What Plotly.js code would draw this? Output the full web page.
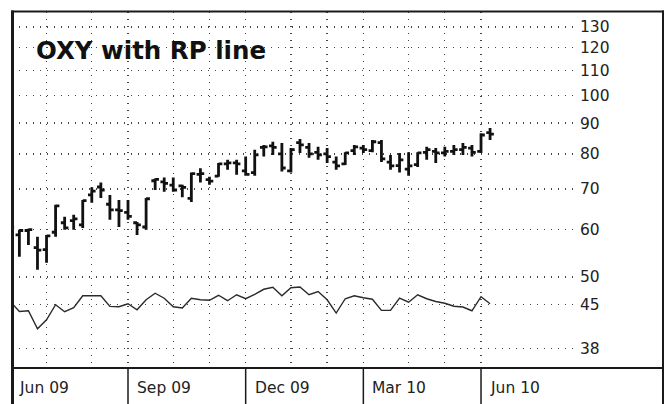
<!DOCTYPE html>
<html>
<head>
<meta charset="utf-8">
<script src="https://cdn.plot.ly/plotly-3.0.1.min.js"></script>
<style>
html,body{margin:0;padding:0;background:#fff;}
#chart{width:667px;height:404px;}
</style>
</head>
<body>
<div id="chart"></div>
<script>
// Weekly bars (week starting Monday)
const dates = ["2009-06-01","2009-06-08","2009-06-15","2009-06-22","2009-06-29","2009-07-06","2009-07-13","2009-07-20","2009-07-27",
"2009-08-03","2009-08-10","2009-08-17","2009-08-24","2009-08-31","2009-09-07","2009-09-14","2009-09-21","2009-09-28",
"2009-10-05","2009-10-12","2009-10-19","2009-10-26","2009-11-02","2009-11-09","2009-11-16","2009-11-23","2009-11-30",
"2009-12-07","2009-12-14","2009-12-21","2009-12-28","2010-01-04","2010-01-11","2010-01-18","2010-01-25",
"2010-02-01","2010-02-08","2010-02-15","2010-02-22","2010-03-01","2010-03-08","2010-03-15","2010-03-22","2010-03-29",
"2010-04-05","2010-04-12","2010-04-19","2010-04-26","2010-05-03","2010-05-10","2010-05-17","2010-05-24","2010-05-31","2010-06-07"];

const openP  = [59.0,58.7,59.7,55.9,55.5,59.3,61.5,62.0,61.0,68.4,70.5,66.0,64.6,64.0,61.5,60.5,72.2,71.9,71.0,70.8,67.5,74.0,72.5,73.5,77.0,77.3,75.0,74.5,82.0,82.5,80.0,75.0,83.5,82.0,80.5,80.0,77.5,77.0,81.0,81.8,81.0,83.5,77.5,76.5,75.5,76.8,80.5,80.8,80.3,80.8,81.3,81.8,80.8,86.8];
const highP  = [60.8,59.9,60.1,58.3,58.7,65.9,62.9,63.4,67.1,70.4,71.7,68.4,67.1,67.1,61.7,67.6,72.8,73.1,73.1,71.1,74.5,75.7,73.3,77.3,78.2,78.2,79.2,81.3,82.8,83.8,83.4,81.8,84.7,83.4,82.2,81.8,79.2,80.5,82.8,82.8,84.4,84.4,79.7,80.3,80.5,80.5,82.2,81.8,82.2,82.8,83.4,82.8,86.6,88.3];
const lowP   = [53.0,54.0,56.5,51.4,52.8,58.3,59.9,59.9,60.3,66.4,67.6,62.2,60.5,62.2,58.7,59.9,69.7,69.2,69.2,67.8,66.6,71.7,71.1,73.3,75.3,73.9,73.6,73.6,79.2,79.7,74.8,74.5,80.3,78.8,78.2,77.3,75.3,76.7,79.7,80.3,80.5,77.6,75.3,74.5,73.6,76.1,78.2,77.3,79.2,79.7,79.7,79.2,80.3,84.4];
const closeP = [60.5,59.7,59.9,55.4,58.5,65.6,60.3,62.4,66.9,69.4,69.7,64.6,64.4,63.0,61.0,67.4,72.6,71.5,69.7,70.4,74.2,74.2,72.1,77.0,77.3,77.0,74.0,79.7,82.2,82.0,75.8,81.3,82.8,80.0,79.7,79.2,76.4,80.3,82.2,81.3,83.8,78.5,76.4,78.2,76.4,80.3,81.3,80.3,80.8,81.3,82.0,80.5,86.0,86.3];

// Relative performance line (plotted on price scale)
const rpLine = [45.47,43.82,43.93,41.01,42.45,44.96,43.77,44.44,46.52,46.52,46.52,44.67,44.61,45.13,44.10,45.82,46.97,46.08,44.61,44.39,
46.08,45.82,45.73,46.61,45.65,46.70,46.00,46.79,47.69,48.05,46.52,47.96,48.09,46.70,47.29,45.82,43.55,46.00,46.52,46.17,
45.91,43.99,43.99,46.12,45.39,46.70,46.00,45.52,45.21,44.70,44.56,43.93,46.35,45.13];

// Axis ticks
const yTicks = [38,45,50,60,70,80,90,100,110,120,130];
const monthGrid = ["2009-06-29","2009-08-03","2009-08-31","2009-10-05","2009-11-02","2009-11-30","2010-01-04","2010-02-01","2010-03-01","2010-04-05","2010-05-03","2010-05-31"];
const quarterDates = ["2009-06-01","2009-08-31","2009-11-30","2010-03-01","2010-05-31"];
const quarterLabels = ["Jun 09","Sep 09","Dec 09","Mar 10","Jun 10"];
const titleText = "OXY with RP line";

const W = 667, H = 404;
const mL = 12, mR = 89, mT = 12, mB = 36;
const pw = W - mL - mR, ph = H - mT - mB;
const px = p => (p - mL) / pw;
const py = p => (H - mB - p) / ph;

const traces = [
  {
    type: 'ohlc', x: dates, open: openP, high: highP, low: lowP, close: closeP,
    increasing: {line: {color: '#111', width: 2.8}},
    decreasing: {line: {color: '#111', width: 2.8}},
    tickwidth: 0.42, hoverinfo: 'skip', showlegend: false
  },
  {
    type: 'scatter', mode: 'lines', x: dates, y: rpLine,
    line: {color: '#2a2a2a', width: 1.4}, hoverinfo: 'skip', showlegend: false
  }
];

const shapes = [];
const lineCol = '#1a1a1a';
// frame
shapes.push({type:'line', xref:'paper', yref:'paper', x0:px(12.5), x1:px(12.5), y0:py(10.5), y1:py(406), line:{color:lineCol, width:3}});
shapes.push({type:'line', xref:'paper', yref:'paper', x0:px(11), x1:px(664), y0:py(11.5), y1:py(11.5), line:{color:lineCol, width:2}});
shapes.push({type:'line', xref:'paper', yref:'paper', x0:px(663), x1:px(663), y0:py(10.5), y1:py(406), line:{color:lineCol, width:2}});
shapes.push({type:'line', xref:'paper', yref:'paper', x0:px(11), x1:px(664), y0:py(368), y1:py(368), line:{color:lineCol, width:2}});
// quarter separators in the date strip
quarterDates.slice(1).forEach(d => {
  shapes.push({type:'line', xref:'x', yref:'paper', x0:d, x1:d, y0:py(368), y1:py(406), line:{color:lineCol, width:1.5}});
});

const labelFont = {family:'DejaVu Sans', size:15.5, color:'#222'};
const annotations = quarterLabels.map((t, i) => (i === 0 ? {
  xref:'paper', yref:'paper', x: 0, y: py(388), xanchor:'left', yanchor:'middle',
  xshift: 5, text: t, showarrow:false, font: labelFont
} : {
  xref:'x', yref:'paper', x: quarterDates[i], y: py(388), xanchor:'left', yanchor:'middle',
  xshift: 7, text: t, showarrow:false, font: labelFont
}));
annotations.push({
  xref:'paper', yref:'paper', x:px(34), y:py(50), xanchor:'left', yanchor:'middle',
  text:'<b>' + titleText + '</b>', showarrow:false,
  font:{family:'DejaVu Sans', size:24.5, color:'#111'}
});

const layout = {
  width: W, height: H,
  margin: {l:mL, r:mR, t:mT, b:mB, pad:0},
  paper_bgcolor:'#fff', plot_bgcolor:'#fff',
  showlegend:false,
  xaxis: {
    type:'date', range:['2009-06-02 07:00','2010-08-14 00:00'],
    tickvals: monthGrid, showticklabels:false, ticks:'',
    showgrid:true, gridcolor:'#444', gridwidth:1.3, griddash:'1px,6px',
    zeroline:false, showline:false, rangeslider:{visible:false}, fixedrange:true
  },
  yaxis: {
    type:'log', side:'right', range:[Math.log10(35.3), Math.log10(137.6)],
    tickvals: yTicks, ticktext: yTicks.map(String), ticks:'', ticklabelstandoff:1,
    showgrid:true, gridcolor:'#444', gridwidth:1.3, griddash:'1px,6px',
    zeroline:false, showline:false, fixedrange:true,
    tickfont:{family:'DejaVu Sans', size:15.5, color:'#222'}
  },
  shapes: shapes,
  annotations: annotations
};

Plotly.newPlot('chart', traces, layout, {staticPlot:true, displayModeBar:false});
</script>
</body>
</html>
